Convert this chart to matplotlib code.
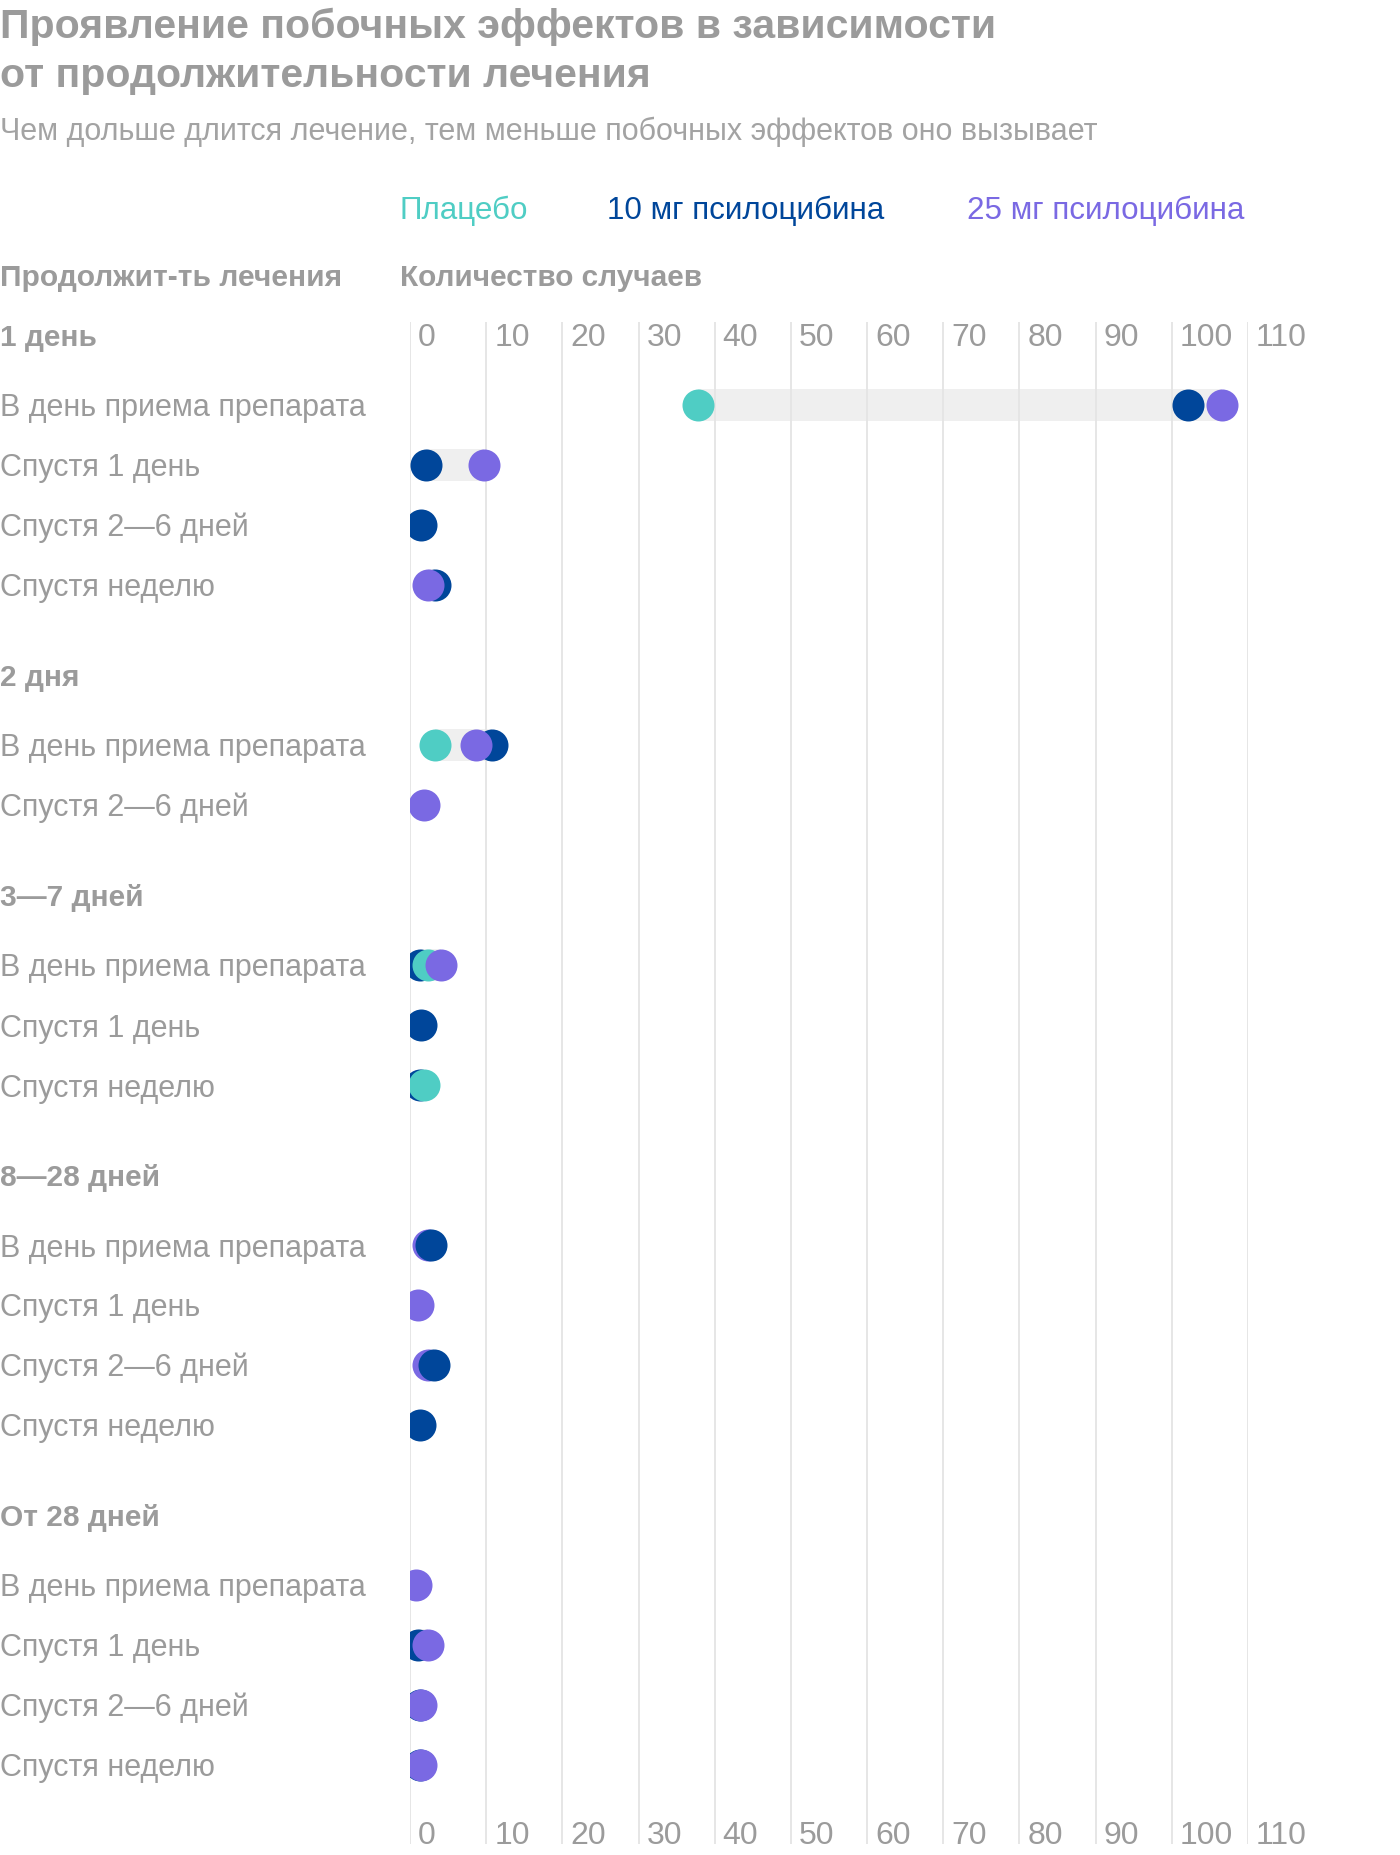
import numpy as np
import matplotlib
matplotlib.use("Agg")
import matplotlib.pyplot as plt
from matplotlib.transforms import blended_transform_factory, offset_copy

# ---------------- data ----------------
groups = ["1 день", "2 дня", "3—7 дней", "8—28 дней", "От 28 дней"]
group_rows = [
    ["В день приема препарата", "Спустя 1 день", "Спустя 2—6 дней", "Спустя неделю"],
    ["В день приема препарата", "Спустя 2—6 дней"],
    ["В день приема препарата", "Спустя 1 день", "Спустя неделю"],
    ["В день приема препарата", "Спустя 1 день", "Спустя 2—6 дней", "Спустя неделю"],
    ["В день приема препарата", "Спустя 1 день", "Спустя 2—6 дней", "Спустя неделю"],
]
nan = np.nan
placebo = [37.8, nan, nan, nan,
           3.3, nan,
           2.3, nan, 1.8,
           nan, nan, nan, nan,
           nan, nan, nan, nan]
mg10 = [102.1, 2.1, 1.5, 3.3,
        10.8, nan,
        1.25, 1.5, 1.25,
        2.8, nan, 3.1, 1.3,
        nan, 1.0, 1.25, 1.25]
mg25 = [106.6, 9.7, nan, 2.3,
        8.7, 1.8,
        4.1, nan, nan,
        2.3, 1.0, 2.3, nan,
        0.8, 2.3, 1.5, 1.5]
series_names = ["Плацебо", "10 мг псилоцибина", "25 мг псилоцибина"]
series_colors = ["#4fcdc4", "#00469a", "#7a69e3"]
front_series = [2, 2, 2, 1, 2]      # which series is drawn on top in each group
xticks = list(range(0, 111, 10))

title_lines = ["Проявление побочных эффектов в зависимости",
               "от продолжительности лечения"]
subtitle = "Чем дольше длится лечение, тем меньше побочных эффектов оно вызывает"
col_left_header = "Продолжит-ть лечения"
col_right_header = "Количество случаев"

# ---------------- style ----------------
W, H, DPI = 1400, 1856, 100
GRAY = "#9b9b9b"
FONT = "Liberation Sans"
plt.rcParams["font.family"] = [FONT, "DejaVu Sans"]

fig = plt.figure(figsize=(W / DPI, H / DPI), dpi=DPI)

# layout in "row" units (one row = 60 px)
HEAD_TO_ROW = 70 / 60
ROW_TO_HEAD = 1.5
header_y, row_y, row_group = [], [], []
y = 0.0
for gi, rows in enumerate(group_rows):
    if gi > 0:
        y += ROW_TO_HEAD
    header_y.append(y)
    y += HEAD_TO_ROW
    for ri, _ in enumerate(rows):
        if ri > 0:
            y += 1.0
        row_y.append(y)
        row_group.append(gi)
last = row_y[-1]
ytop = -13 / 60
ybot = last + 79 / 60
bottom_tick_y = last + 68 / 60

ax_top_px, ax_bot_px = 323, 1845
ax_left_px, ax_right_px = 410, 1248
ax = fig.add_axes([ax_left_px / W, 1 - ax_bot_px / H,
                   (ax_right_px - ax_left_px) / W, (ax_bot_px - ax_top_px) / H])
ax.set_xlim(0, 110)
ax.set_ylim(ybot, ytop)
ax.set_xticks(xticks)
ax.set_yticks([])
ax.tick_params(axis="x", length=0, labelbottom=False, labeltop=False)
for s in ax.spines.values():
    s.set_visible(False)
ax.grid(axis="x", color="#e4e4e4", linewidth=1.3, zorder=1.5)
ax.set_axisbelow(False)

series = [np.array(placebo), np.array(mg10), np.array(mg25)]
vals = np.vstack(series)

# range bands
band_h = 32 / 60
for i, yy in enumerate(row_y):
    v = vals[:, i]
    v = v[~np.isnan(v)]
    if len(v) > 1:
        ax.barh(yy, v.max() - v.min(), left=v.min(), height=band_h,
                color="#efefef", zorder=1, linewidth=0)

# dots
dot_s = (32 / DPI * 72) ** 2
base_order = [1, 0, 2]
for i, yy in enumerate(row_y):
    top = front_series[row_group[i]]
    order = [k for k in base_order if k != top] + [top]
    for z, k in enumerate(order):
        v = series[k][i]
        if not np.isnan(v):
            ax.scatter(v, yy, s=dot_s, color=series_colors[k], linewidths=0,
                       zorder=3 + z * 0.1)

# tick labels top/bottom
CAP = 21
lab_tr = offset_copy(ax.transData, fig=fig, x=8, y=-CAP / 2, units="dots")
for t in xticks:
    for yy in (header_y[0], bottom_tick_y):
        ax.text(t, yy, str(t), transform=lab_tr, ha="left", va="baseline",
                fontsize=23, color=GRAY, clip_on=False)

# left labels
left_tr = offset_copy(blended_transform_factory(fig.transFigure, ax.transData),
                      fig=fig, x=0, y=-CAP / 2, units="dots")
for gi, g in enumerate(groups):
    ax.text(0.0, header_y[gi], g, transform=left_tr, ha="left", va="baseline",
            fontsize=21.5, fontweight="bold", color=GRAY, clip_on=False)
ri = 0
for gi, rows in enumerate(group_rows):
    for r in rows:
        ax.text(0.0, row_y[ri], r, transform=left_tr, ha="left", va="baseline",
                fontsize=22, color=GRAY, clip_on=False)
        ri += 1

def ftext(xpx, ypx_center, s, cap, **kw):
    fig.text(xpx / W, 1 - (ypx_center + cap / 2) / H, s, ha="left",
             va="baseline", **kw)

# title & subtitle
for line, base in zip(title_lines, (38, 87)):
    fig.text(0, 1 - base / H, line, ha="left", va="baseline",
             fontsize=29.5, fontweight="bold", color=GRAY)
ftext(0, 130, subtitle, 20, fontsize=22, color="#a3a3a3")

# legend
legend_x = [400, 607, 967]
for name, col, xp in zip(series_names, series_colors, legend_x):
    ftext(xp, 209, name, 20, fontsize=22.6, color=col)

# column headers
ftext(0, 276, col_left_header, 21, fontsize=21.6, fontweight="bold", color=GRAY)
ftext(400, 276, col_right_header, 21, fontsize=21.4, fontweight="bold", color=GRAY)

fig.savefig("out.png", dpi=DPI, facecolor="white")
